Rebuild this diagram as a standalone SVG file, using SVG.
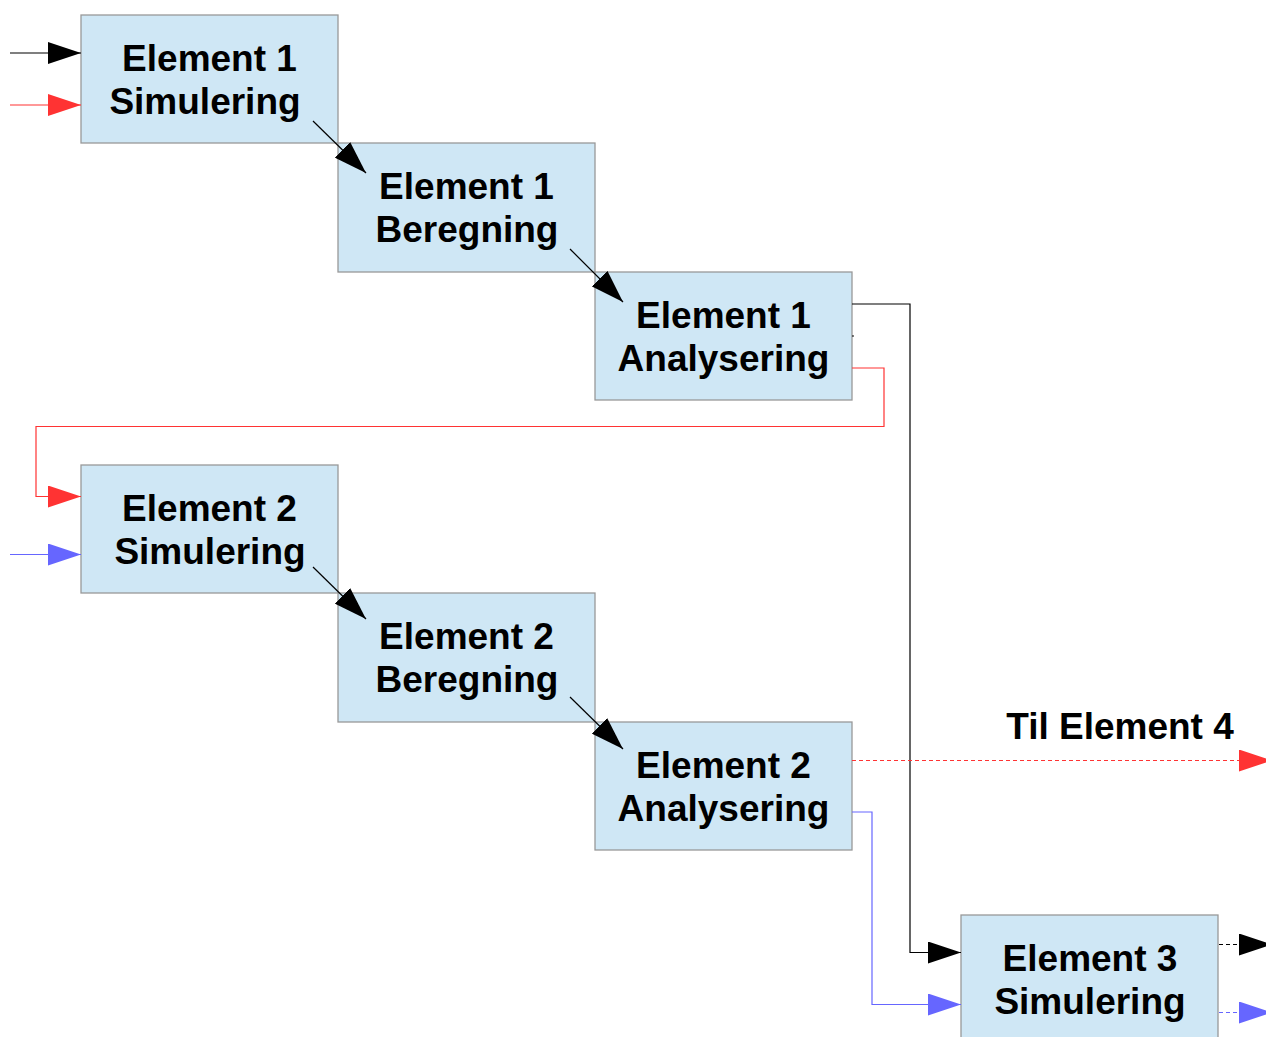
<svg xmlns="http://www.w3.org/2000/svg" width="1266" height="1037" viewBox="0 0 1266 1037">
<style>
.box{fill:#cfe7f5;stroke:#999999;stroke-width:1.3}
.t{font-family:"Liberation Sans",Arial,sans-serif;font-weight:bold;font-size:37px;fill:#000;text-anchor:middle}
.k{fill:none;stroke:#000;stroke-width:1.2}
.r{fill:none;stroke:#ff3333;stroke-width:1.2}
.b{fill:none;stroke:#6666ff;stroke-width:1.2}
.d{stroke-dasharray:4 3}
</style>
<defs>
<marker id="ak" viewBox="0 0 33 22" refX="33" refY="11" markerWidth="33" markerHeight="22" markerUnits="userSpaceOnUse" orient="auto"><path d="M0,0 L33,11 L0,22 z" fill="#000"/></marker>
<marker id="ar" viewBox="0 0 33 22" refX="33" refY="11" markerWidth="33" markerHeight="22" markerUnits="userSpaceOnUse" orient="auto"><path d="M0,0 L33,11 L0,22 z" fill="#ff3333"/></marker>
<marker id="ab" viewBox="0 0 33 22" refX="33" refY="11" markerWidth="33" markerHeight="22" markerUnits="userSpaceOnUse" orient="auto"><path d="M0,0 L33,11 L0,22 z" fill="#6666ff"/></marker>
</defs>
<rect width="1266" height="1037" fill="#fff"/>
<g id="n1"><rect class="box" x="81" y="15" width="257" height="128"/><text class="t" x="209.5" y="71">Element 1</text><text class="t" x="205" y="114">Simulering</text></g>
<g id="n2"><rect class="box" x="338" y="143" width="257" height="129"/><text class="t" x="466.5" y="199">Element 1</text><text class="t" x="467" y="242">Beregning</text></g>
<g id="n3"><rect class="box" x="595" y="272" width="257" height="128"/><text class="t" x="723.5" y="328">Element 1</text><text class="t" x="723.5" y="371">Analysering</text></g>
<g id="n4"><rect class="box" x="81" y="465" width="257" height="128"/><text class="t" x="209.5" y="521">Element 2</text><text class="t" x="210" y="564">Simulering</text></g>
<g id="n5"><rect class="box" x="338" y="593" width="257" height="129"/><text class="t" x="466.5" y="649">Element 2</text><text class="t" x="467" y="692">Beregning</text></g>
<g id="n6"><rect class="box" x="595" y="722" width="257" height="128"/><text class="t" x="723.5" y="778">Element 2</text><text class="t" x="723.5" y="821">Analysering</text></g>
<g id="n7"><rect class="box" x="961" y="915" width="257" height="128"/><text class="t" x="1090" y="971">Element 3</text><text class="t" x="1090" y="1014">Simulering</text></g>
<g id="label"><text class="t" x="1120" y="739">Til Element 4</text></g>
<g id="connectors">
<path class="k" d="M10,53 H81" marker-end="url(#ak)"/>
<path class="r" d="M10,105 H81" marker-end="url(#ar)"/>
<path class="k" d="M313,121 L366,173" marker-end="url(#ak)"/>
<path class="k" d="M570,249 L623,302" marker-end="url(#ak)"/>
<path class="k" d="M852,304 H910 V952.5 H961" marker-end="url(#ak)"/>
<path class="k" d="M852,336 H854"/>
<path class="r" d="M852,368 H884 V426.5 H36 V496.5 H81" marker-end="url(#ar)"/>
<path class="b" d="M10,554.5 H81" marker-end="url(#ab)"/>
<path class="k" d="M313,567 L366,619" marker-end="url(#ak)"/>
<path class="k" d="M570,697 L623,749" marker-end="url(#ak)"/>
<path class="r d" d="M852,760.5 H1272" marker-end="url(#ar)"/>
<path class="b" d="M852,812 H872 V1004.5 H961" marker-end="url(#ab)"/>
<path class="k d" d="M1219,944.5 H1272" marker-end="url(#ak)"/>
<path class="b d" d="M1219,1012.5 H1272" marker-end="url(#ab)"/>
</g>
</svg>
